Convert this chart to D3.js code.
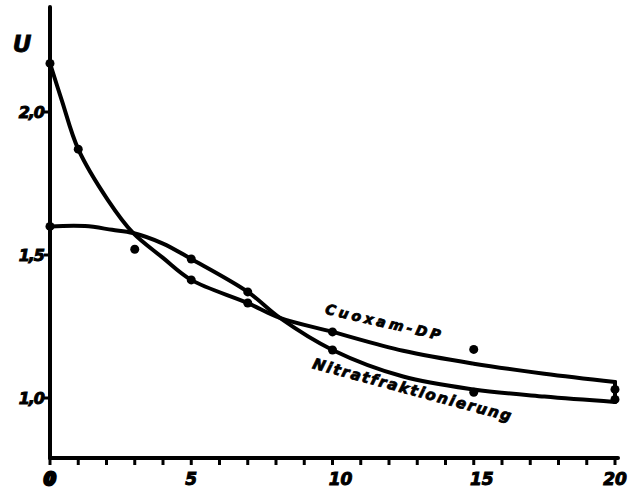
<!DOCTYPE html>
<html>
<head>
<meta charset="utf-8">
<script src="https://cdn.jsdelivr.net/npm/d3@7"></script>
<style>
  html, body { margin: 0; padding: 0; background: #fff; }
  svg { display: block; }
  text { font-family: "DejaVu Sans", sans-serif; font-weight: bold; font-style: italic; fill: #000; }
</style>
</head>
<body>
<svg id="chart" width="636" height="502"></svg>
<script>
// Abscissa ticks (every unit) and labelled ticks
const xMinorTicks = d3.range(0, 21, 1);
const xTickValues = [0, 5, 10, 15, 20];
const xTickLabels = ["0", "5", "10", "15", "20"];

// Ordinate ticks
const yTickValues = [1.0, 1.5, 2.0];
const yTickLabels = ["1,0", "1,5", "2,0"];

// Measured points
const cuoxamX = [0, 1, 3, 5, 7, 10, 15, 20];
const cuoxamU = [2.17, 1.87, 1.52, 1.413, 1.332, 1.231, 1.17, 1.03];
const nitratX = [0, 5, 7, 10, 15, 20];
const nitratU = [1.60, 1.486, 1.371, 1.168, 1.02, 0.995];

// Smoothed curves drawn through the measurements
const cuoxamCurveX = [0, 0.42, 1, 2.05, 2.94, 4, 5, 7, 8.14, 10, 12.5, 15, 17.5, 20];
const cuoxamCurveU = [2.17, 2.04, 1.87, 1.692, 1.577, 1.49, 1.413, 1.332, 1.28, 1.231, 1.165, 1.12, 1.085, 1.056];
const nitratCurveX = [0, 1.24, 2.2, 2.94, 4, 5, 7, 8.14, 10, 12.5, 15, 17.5, 20];
const nitratCurveU = [1.60, 1.601, 1.588, 1.577, 1.54, 1.486, 1.371, 1.28, 1.168, 1.075, 1.03, 1.005, 0.986];

// Series labels
const seriesNames = ["Cuoxam-DP", "Nitratfraktionierung"];

const svg = d3.select("#chart");

const x = d3.scaleLinear().domain([0, 20]).range([50, 615]);
const y = d3.scaleLinear().domain([1, 2]).range([398, 112]);

const axisY0 = 458;   // baseline of the abscissa
const axisTop = 7;    // top end of the ordinate

// Ordinate axis line
svg.append("line")
  .attr("x1", x(0)).attr("x2", x(0))
  .attr("y1", axisTop).attr("y2", axisY0)
  .attr("stroke", "#000").attr("stroke-width", 4).attr("stroke-linecap", "round");

// Abscissa axis line
svg.append("line")
  .attr("x1", x(0)).attr("x2", x(20) + 3)
  .attr("y1", axisY0).attr("y2", axisY0)
  .attr("stroke", "#000").attr("stroke-width", 4).attr("stroke-linecap", "round");

// Abscissa minor ticks (pointing down)
svg.append("g").selectAll("line").data(xMinorTicks).join("line")
  .attr("x1", d => x(d)).attr("x2", d => x(d))
  .attr("y1", axisY0).attr("y2", axisY0 + 7)
  .attr("stroke", "#000").attr("stroke-width", 3);

// Abscissa labels
svg.append("g").selectAll("text").data(xTickValues).join("text")
  .attr("x", d => x(d) + (d >= 10 && d < 20 ? 8 : 0))
  .attr("y", 485)
  .attr("text-anchor", "middle")
  .attr("font-size", 17)
  .attr("stroke", "#000").attr("stroke-width", d => d === 0 ? 3 : 1)
  .text((d, i) => xTickLabels[i]);

// Ordinate ticks (pointing left)
svg.append("g").selectAll("line").data(yTickValues).join("line")
  .attr("x1", x(0) - 6).attr("x2", x(0))
  .attr("y1", d => y(d)).attr("y2", d => y(d))
  .attr("stroke", "#000").attr("stroke-width", 3);

// Ordinate labels
svg.append("g").selectAll("text").data(yTickValues).join("text")
  .attr("x", 44)
  .attr("y", d => y(d) + 6)
  .attr("text-anchor", "end")
  .attr("font-size", 16)
  .attr("letter-spacing", -1)
  .attr("stroke", "#000").attr("stroke-width", 1)
  .text((d, i) => yTickLabels[i]);

// Ordinate title
svg.append("text")
  .attr("x", 22).attr("y", 52)
  .attr("text-anchor", "middle")
  .attr("font-size", 23)
  .attr("stroke", "#000").attr("stroke-width", 0.8)
  .text("U");

// Curves
const line = d3.line()
  .x(d => x(d[0]))
  .y(d => y(d[1]))
  .curve(d3.curveCatmullRom.alpha(0.5));

const cuoxamCurve = d3.zip(cuoxamCurveX, cuoxamCurveU);
const nitratCurve = d3.zip(nitratCurveX, nitratCurveU);

svg.append("path").datum(cuoxamCurve)
  .attr("d", line)
  .attr("fill", "none").attr("stroke", "#000")
  .attr("stroke-width", 4).attr("stroke-linecap", "round").attr("stroke-linejoin", "round");

svg.append("path").datum(nitratCurve)
  .attr("d", line)
  .attr("fill", "none").attr("stroke", "#000")
  .attr("stroke-width", 4).attr("stroke-linecap", "round").attr("stroke-linejoin", "round");

// Closing stroke joining both curves at the last abscissa
svg.append("line")
  .attr("x1", x(20)).attr("x2", x(20))
  .attr("y1", y(cuoxamCurveU[cuoxamCurveU.length - 1]))
  .attr("y2", y(nitratCurveU[nitratCurveU.length - 1]))
  .attr("stroke", "#000").attr("stroke-width", 4).attr("stroke-linecap", "round");

// Measurement dots
const dots = d3.zip(cuoxamX, cuoxamU).concat(d3.zip(nitratX, nitratU));
svg.append("g").selectAll("circle").data(dots).join("circle")
  .attr("cx", d => x(d[0]))
  .attr("cy", d => y(d[1]))
  .attr("r", 4.5)
  .attr("fill", "#000");

// Series labels, written along the curves
svg.append("text")
  .attr("transform", "translate(383,322) rotate(13)")
  .attr("text-anchor", "middle")
  .attr("dominant-baseline", "central")
  .attr("font-size", 14)
  .attr("textLength", 118)
  .attr("lengthAdjust", "spacing")
  .attr("stroke", "#000").attr("stroke-width", 0.8)
  .text(seriesNames[0]);

svg.append("text")
  .attr("transform", "translate(412,390) rotate(15)")
  .attr("text-anchor", "middle")
  .attr("dominant-baseline", "central")
  .attr("font-size", 15)
  .attr("textLength", 205)
  .attr("lengthAdjust", "spacing")
  .attr("stroke", "#000").attr("stroke-width", 0.8)
  .text(seriesNames[1]);
</script>
</body>
</html>
